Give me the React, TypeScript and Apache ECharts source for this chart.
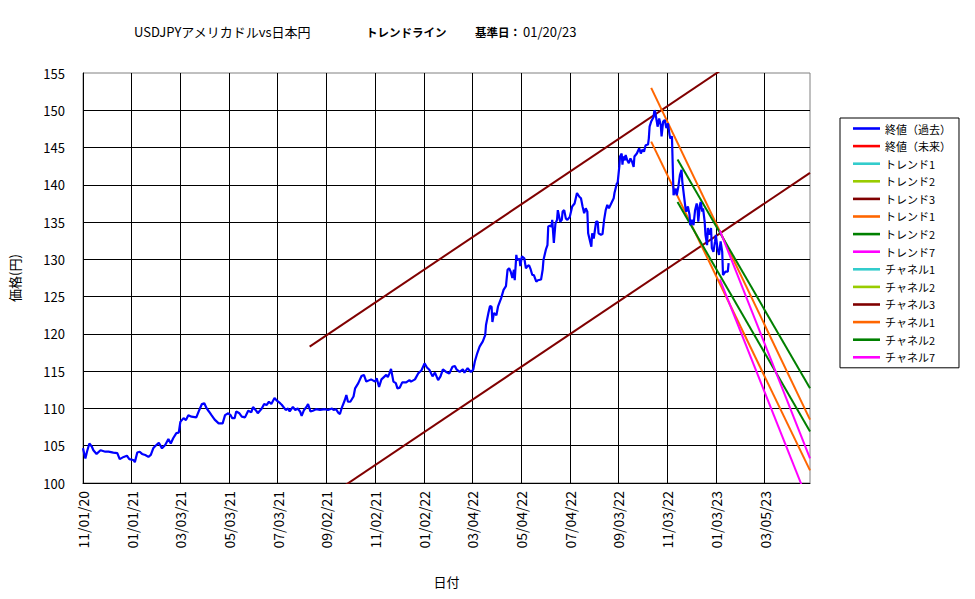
import React, { useEffect, useRef } from "react";
import * as echarts from "echarts";

const FONT = '"Noto Sans CJK JP", "Noto Sans", sans-serif';

// x axis: days since 2020-11-01
const axisStartUTC = Date.UTC(2020, 10, 1);
const xMaxDay = 911;
const xTickInterval = 61;
const yMin = 100;
const yMax = 155;
const yInterval = 5;

const titleMain = "USDJPYアメリカドルvs日本円";
const titleTrend = "トレンドライン";
const titleBase = "基準日：";
const titleDate = "01/20/23";

// 終値(過去): days since 2020-11-01 and close values
const pastDays = [
  0, 3, 5, 8, 11, 13, 17, 22, 28, 32, 38, 43, 46, 51, 55, 58, 63, 65, 68, 71,
  74, 78, 82, 85, 88, 90, 95, 99, 103, 107, 110, 113, 117, 120, 122, 126, 129, 132, 136, 142,
  145, 149, 152, 155, 158, 161, 165, 170, 175, 178, 182, 185, 187, 190, 192, 196, 199, 203, 207, 211,
  213, 217, 219, 224, 227, 230, 233, 236, 240, 243, 247,
  249, 254, 257, 259, 263, 266, 269, 272, 274, 277, 280, 282, 285, 288, 292, 297, 303, 307, 312, 314,
  317, 320, 322, 324, 328, 330, 332, 335, 339, 341, 345, 349, 352, 355, 359, 361, 366, 368, 371, 374,
  378, 380, 382, 384, 386, 389, 392, 394, 397, 400, 405, 409, 411, 416, 420, 424, 428, 431, 434, 438,
  441, 445, 448, 451, 455, 459, 463, 466, 468, 472, 476, 478, 482, 486, 489,
  491, 494, 497, 501, 504, 505, 508, 510, 512, 513, 515, 518, 520, 524, 527, 530, 532, 534, 536, 538,
  540, 541, 543, 544, 547, 548, 550, 553, 555, 557, 559, 561, 563, 565, 568, 570, 574, 576, 577, 580,
  582, 583, 585, 587, 588, 590, 592, 594, 595, 598, 600, 601, 603, 605, 607, 610, 613, 616, 619, 622,
  624, 626, 628, 630, 632, 633, 635, 637, 638, 640, 643, 645, 646, 649, 651, 653, 655, 657, 659, 661,
  665, 666, 669, 670, 672, 673, 675, 676, 677, 679, 680, 682, 684, 686, 688, 690, 691, 694, 697, 699,
  701, 703, 705, 708, 709, 710, 712, 715, 716, 717, 719, 720, 722, 724, 725, 727, 729, 731, 733, 735,
  736, 738, 740, 743, 744, 746, 748, 750, 751, 753, 755, 756, 758, 760, 761, 763, 765, 767, 769, 770,
  771, 773, 774, 776, 777, 779, 780, 782, 783, 785, 787, 788, 790, 792, 793, 795, 797, 799, 801, 802,
  805, 808, 809,
];
const pastClose = [
  104.65, 103.3, 104.2, 105.3, 104.9, 104.4, 103.9, 104.4, 104.2, 104.2, 104.07, 104.0, 103.2, 103.5, 103.66, 103.2, 103.09, 102.8, 104.1, 104.2,
  103.9, 103.75, 103.5, 103.76, 104.65, 104.9, 105.4, 104.65, 105.1, 105.9, 105.3, 106.0, 106.7, 106.75, 108.2, 108.7, 108.45, 109.1, 108.9, 108.8,
  109.6, 110.6, 110.7, 110.0, 109.56, 109.1, 108.5, 108.0, 108.0, 109.1, 109.35, 109.1, 108.7, 108.7, 109.6, 109.35, 108.9, 108.8, 109.7, 109.5,
  110.2, 109.7, 109.35, 110.0, 110.6, 110.46, 110.9, 110.6, 111.4, 111.04, 110.7,
  110.5, 109.8, 110.0, 109.6, 110.2, 109.8, 110.0, 109.6, 109.0, 109.8, 110.2, 110.6, 109.6, 109.7, 109.9, 109.8, 109.9, 109.8, 110.0, 109.8,
  109.9, 109.4, 109.25, 110.0, 111.1, 111.8, 110.9, 110.9, 111.6, 112.7, 113.4, 114.35, 114.5, 113.6, 113.8, 113.9, 113.6, 114.05, 112.9, 113.9,
  114.3, 114.5, 114.2, 114.7, 115.3, 113.6, 113.4, 112.7, 112.8, 113.5, 113.5, 113.8, 113.6, 113.9, 114.7, 115.1, 116.05, 115.5, 115.2, 114.3,
  114.8, 113.8, 114.3, 115.25, 114.9, 114.7, 115.6, 115.7, 115.25, 114.9, 115.25, 114.8, 115.4, 114.9, 115.2,
  116.3, 117.4, 118.3, 119.0, 119.85, 121.2, 122.8, 123.75, 123.65, 121.6, 122.8, 122.5, 123.65, 124.8, 125.9, 126.4, 128.6, 128.8, 128.35, 127.5,
  128.6, 127.2, 130.6, 129.9, 130.1, 129.1, 130.4, 130.15, 128.8, 129.1, 129.2, 128.65, 127.9, 127.9, 127.0, 127.2, 127.3, 128.6, 129.9, 131.3,
  131.9, 134.4, 134.5, 134.4, 135.3, 132.2, 134.8, 135.3, 136.6, 135.05, 135.3, 136.4, 136.6, 135.5, 135.3, 135.7, 137.1, 137.5, 138.9, 138.4,
  138.2, 137.1, 136.2, 136.85, 136.4, 133.5, 132.6, 131.7, 133.5, 132.8, 135.05, 135.05, 133.5, 133.3, 133.4, 135.3, 136.6, 137.3, 136.85, 137.3,
  138.2, 138.9, 140.2, 140.3, 142.4, 143.8, 144.2, 142.7, 143.8, 143.3, 144.0, 143.3, 142.9, 143.55, 143.1, 142.4, 143.8, 144.2, 144.9, 144.2,
  144.7, 144.45, 145.3, 145.4, 146.2, 147.8, 148.5, 149.1, 150.0, 149.8, 148.5, 147.8, 148.9, 148.0, 146.5, 148.5, 148.7, 147.6, 148.25, 146.7,
  146.2, 146.5, 138.6, 139.5, 138.6, 139.75, 141.3, 142.0, 140.4, 138.6, 136.85, 136.4, 137.1, 136.0, 134.6, 135.3, 134.6, 136.6, 137.5, 136.85,
  135.05, 137.3, 137.7, 136.4, 136.85, 135.05, 133.3, 131.9, 134.2, 133.3, 134.2, 131.5, 131.0, 132.4, 133.3, 131.5, 130.6, 132.4, 131.0, 127.9,
  128.35, 128.35, 129.5,
];

// 終値(未来) and unused trend/channel lines (no visible data)
const futureClose: number[][] = [];
const trend1Cyan: number[][] = [];
const trend2YellowGreen: number[][] = [];
const channel1Cyan: number[][] = [];
const channel2YellowGreen: number[][] = [];

// trend / channel lines: [day, value] end points
const trend3DarkRed = [[284, 118.3], [911, 163.4]];
const channel3DarkRed = [[284, 96.5], [911, 141.6]];
const trend1Orange = [[712, 153.0], [911, 108.5]];
const channel1Orange = [[712, 145.8], [911, 101.7]];
const trend2Green = [[745, 143.4], [911, 112.7]];
const channel2Green = [[745, 137.7], [911, 106.9]];
const trend7Magenta = [[798, 133.9], [911, 103.3]];
const channel7Magenta = [[798, 127.3], [911, 96.9]];

const pad = (n: number) => (n < 10 ? "0" + n : String(n));
const dayLabel = (d: number) => {
  if (Math.round(d) % xTickInterval !== 0) return "";
  const t = new Date(axisStartUTC + Math.round(d) * 86400000);
  return `${pad(t.getUTCMonth() + 1)}/${pad(t.getUTCDate())}/${pad(t.getUTCFullYear() % 100)}`;
};

type S = { name: string; color: string; data: number[][]; width: number };

export default function App() {
  const ref = useRef<HTMLDivElement>(null);
  useEffect(() => {
    if (!ref.current) return;
    const chart = echarts.init(ref.current, undefined, { renderer: "svg" });
    const pastData = pastDays.map((d, i) => [d, pastClose[i]]);
    const series: S[] = [
      { name: "終値（過去）", color: "#0000FF", data: pastData, width: 2.2 },
      { name: "終値（未来）", color: "#FF0000", data: futureClose, width: 2 },
      { name: "トレンド1", color: "#33CCCC", data: trend1Cyan, width: 2 },
      { name: "トレンド2", color: "#99CC00", data: trend2YellowGreen, width: 2 },
      { name: "トレンド3", color: "#800000", data: trend3DarkRed, width: 2 },
      { name: "トレンド1 ", color: "#FF6600", data: trend1Orange, width: 2 },
      { name: "トレンド2 ", color: "#008000", data: trend2Green, width: 2 },
      { name: "トレンド7", color: "#FF00FF", data: trend7Magenta, width: 2 },
      { name: "チャネル1", color: "#33CCCC", data: channel1Cyan, width: 2 },
      { name: "チャネル2", color: "#99CC00", data: channel2YellowGreen, width: 2 },
      { name: "チャネル3", color: "#800000", data: channel3DarkRed, width: 2 },
      { name: "チャネル1 ", color: "#FF6600", data: channel1Orange, width: 2 },
      { name: "チャネル2 ", color: "#008000", data: channel2Green, width: 2 },
      { name: "チャネル7", color: "#FF00FF", data: channel7Magenta, width: 2 },
    ];
    const drawOrder = [4, 10, 5, 11, 6, 12, 7, 13, 1, 2, 3, 8, 9, 0];
    chart.setOption({
      animation: false,
      backgroundColor: "#fff",
      textStyle: { fontFamily: FONT },
      graphic: [
        { type: "text", left: 134, top: 25, style: { text: titleMain, fontSize: 13, fontFamily: FONT, fill: "#000" } },
        { type: "text", left: 366, top: 26, style: { text: titleTrend, fontSize: 11.5, fontWeight: "bold", fontFamily: FONT, fill: "#000" } },
        { type: "text", left: 475, top: 26, style: { text: titleBase, fontSize: 11.5, fontWeight: "bold", fontFamily: FONT, fill: "#000" } },
        { type: "text", left: 523, top: 25, style: { text: titleDate, fontSize: 13, fontFamily: FONT, fill: "#000" } },
      ],
      grid: {
        left: 80,
        right: 165,
        top: 73,
        bottom: 116,
        show: true,
        borderColor: "#808080",
        borderWidth: 1,
        backgroundColor: "#fff",
      },
      legend: {
        orient: "vertical",
        left: 840,
        top: 118,
        padding: [5, 8, 5, 13],
        itemGap: 6.6,
        itemWidth: 27,
        itemHeight: 14,
        icon: "path://M0,0L27,0L27,2.6L0,2.6Z",
        borderColor: "#000",
        borderWidth: 1,
        backgroundColor: "#fff",
        selectedMode: false,
        data: series.map((s) => s.name),
        formatter: (n: string) => n.trim(),
        textStyle: { fontSize: 11, color: "#000", fontFamily: FONT },
      },
      xAxis: {
        type: "value",
        min: 0,
        max: xMaxDay,
        interval: xTickInterval,
        name: "日付",
        nameLocation: "middle",
        nameGap: 92,
        nameTextStyle: { fontSize: 13, color: "#000", fontFamily: FONT },
        axisLine: { show: true, onZero: false, lineStyle: { color: "#000", width: 1 } },
        axisTick: { show: false },
        axisLabel: {
          rotate: 90,
          margin: 8,
          fontSize: 14,
          color: "#000",
          fontFamily: FONT,
          showMaxLabel: false,
          formatter: (v: number) => dayLabel(v),
        },
        splitLine: { show: true, showMaxLine: false, lineStyle: { color: "#000", width: 1 } },
      },
      yAxis: {
        type: "value",
        min: yMin,
        max: yMax,
        interval: yInterval,
        name: "価格(円)",
        nameLocation: "middle",
        nameRotate: 90,
        nameGap: 62,
        nameTextStyle: { fontSize: 13, color: "#000", fontFamily: FONT },
        axisLine: { show: true, lineStyle: { color: "#000", width: 1 } },
        axisTick: { show: false },
        axisLabel: { margin: 18, fontSize: 13, color: "#000", fontFamily: FONT },
        splitLine: { show: true, showMaxLine: false, lineStyle: { color: "#000", width: 1 } },
      },
      series: drawOrder.map((i) => {
        const s = series[i];
        return {
          type: "line",
          name: s.name,
          data: s.data,
          color: s.color,
          symbol: "none",
          showSymbol: false,
          clip: true,
          silent: true,
          z: i === 0 ? 3 : 2,
          lineStyle: { color: s.color, width: s.width },
          itemStyle: { color: s.color },
        };
      }),
    });
    return () => chart.dispose();
  }, []);
  return (
    <div
      ref={ref}
      style={{ position: "absolute", left: 0, top: 0, width: 975, height: 599 }}
    />
  );
}
